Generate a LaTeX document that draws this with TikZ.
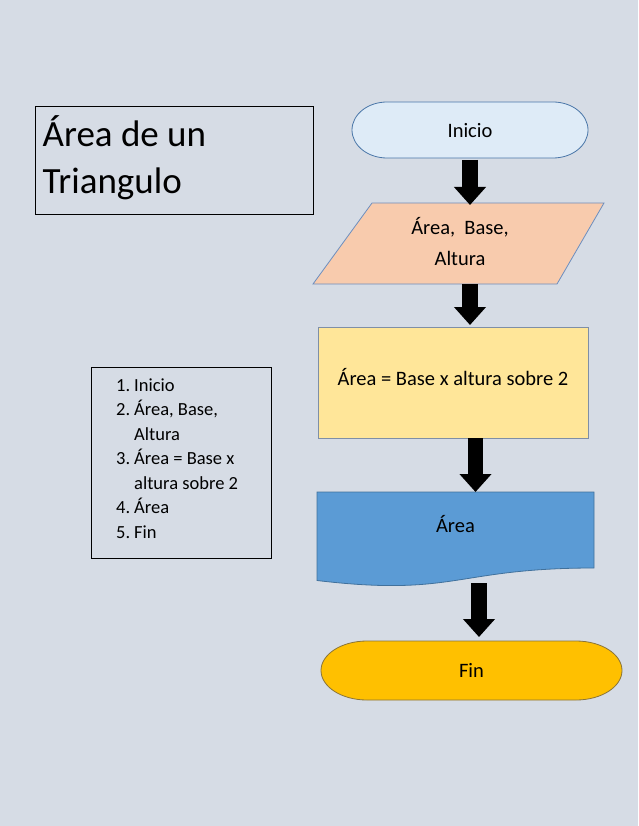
\documentclass[tikz,border=0pt]{standalone}
\usepackage{fontspec}
\setmainfont{Carlito}
\usetikzlibrary{arrows.meta,backgrounds}
\definecolor{pagebg}{HTML}{D6DCE5}
\definecolor{iniciofill}{HTML}{DEEBF7}
\definecolor{inicioedge}{HTML}{4A76A8}
\definecolor{parafill}{HTML}{F8CBAD}
\definecolor{paraedge}{HTML}{6C8EBF}
\definecolor{calcfill}{HTML}{FFE699}
\definecolor{calcedge}{HTML}{7F8FA6}
\definecolor{docfill}{HTML}{5B9BD5}
\definecolor{docedge}{HTML}{41719C}
\definecolor{finfill}{HTML}{FFC000}
\definecolor{finedge}{HTML}{8A7438}
\begin{document}
\begin{tikzpicture}[x=1pt,y=-1pt,
  shapetext/.style={inner sep=0pt, outer sep=0pt, font=\fontsize{20.5}{24.6}\selectfont, text=black},
  blockarrow/.style={line width=16pt, black, -{Triangle[length=18pt,width=31pt]}},
  outline/.style={line width=0.8pt},
  framebox/.style={line width=0.9pt, draw=black}]
\useasboundingbox (0,0) rectangle (638,826);

% flowchart nodes
\node[shapetext, minimum width=236pt, minimum height=56pt, text height=15.4pt, text depth=0pt] (inicio) at (470,130) {Inicio};
\node[shapetext, minimum width=291pt, minimum height=81pt] (para) at (458.5,243.5)
  {\fontsize{20.5}{31.6}\selectfont\begin{tabular}{@{}c@{}}\hspace{3pt}Área,~ Base,\\\hspace{3pt}Altura\end{tabular}};
\node[shapetext, minimum width=270pt, minimum height=111pt, text height=12pt, text depth=7pt] (calc) at (453,382.5) {Área = Base x altura sobre 2};
\node[shapetext, minimum width=277pt, minimum height=76pt, text height=12pt, text depth=7.4pt] (doc) at (455.5,530) {Área};
\node[shapetext, minimum width=301pt, minimum height=59pt, text height=13.6pt, text depth=0pt] (fin) at (471.5,670.5) {Fin};

% title and list
\node[anchor=base west, inner sep=0pt, font=\fontsize{37}{47.3}\selectfont] (title) at (42.5,146.7)
  {\begin{tabular}[t]{@{}l@{}}Área de un\\Triangulo\end{tabular}};
\node[anchor=base west, inner sep=0pt, font=\fontsize{18.5}{24.5}\selectfont] (steps) at (116,391)
  {\begin{tabular}[t]{@{}p{18pt}@{}l@{}}
  1. & Inicio\\
  2. & Área, Base,\\
     & Altura\\
  3. & Área = Base x\\
     & altura sobre 2\\
  4. & Área\\
  5. & Fin
  \end{tabular}};

\begin{scope}[on background layer]
\fill[pagebg] (0,0) rectangle (638,826);
% Inicio terminator
\draw[outline, draw=inicioedge, fill=iniciofill]
  ([xshift=35pt]inicio.north west) -- ([xshift=-35pt]inicio.north east)
  .. controls ([xshift=-15.67pt]inicio.north east) and ([yshift=15.46pt]inicio.east) .. (inicio.east)
  .. controls ([yshift=-15.46pt]inicio.east) and ([xshift=-15.67pt]inicio.south east) .. ([xshift=-35pt]inicio.south east)
  -- ([xshift=35pt]inicio.south west)
  .. controls ([xshift=15.67pt]inicio.south west) and ([yshift=-15.46pt]inicio.west) .. (inicio.west)
  .. controls ([yshift=15.46pt]inicio.west) and ([xshift=15.67pt]inicio.north west) .. ([xshift=35pt]inicio.north west)
  -- cycle;
% parallelogram
\draw[outline, draw=paraedge, fill=parafill]
  ([xshift=59pt]para.north west) -- (para.north east) -- ([xshift=-47pt]para.south east) -- (para.south west) -- cycle;
% process
\draw[outline, draw=calcedge, fill=calcfill] (calc.north west) rectangle (calc.south east);
% document
\draw[outline, draw=docedge, fill=docfill]
  (doc.north west) -- (doc.north east) -- (doc.south east)
  .. controls (doc.south) and ([yshift=-29pt]doc.south) .. ([yshift=-12.5pt]doc.south west) -- cycle;
% Fin terminator
\draw[outline, draw=finedge, fill=finfill]
  ([xshift=46pt]fin.north west) -- ([xshift=-46pt]fin.north east)
  .. controls ([xshift=-20.6pt]fin.north east) and ([yshift=16.3pt]fin.east) .. (fin.east)
  .. controls ([yshift=-16.3pt]fin.east) and ([xshift=-20.6pt]fin.south east) .. ([xshift=-46pt]fin.south east)
  -- ([xshift=46pt]fin.south west)
  .. controls ([xshift=20.6pt]fin.south west) and ([yshift=-16.3pt]fin.west) .. (fin.west)
  .. controls ([yshift=16.3pt]fin.west) and ([xshift=20.6pt]fin.north west) .. ([xshift=46pt]fin.north west)
  -- cycle;
% frames
\draw[framebox] (35,106) rectangle (313,214);
\draw[framebox] (91,367) rectangle (271,558);
\end{scope}

% block arrows
\draw[blockarrow] ([yshift=-2pt]inicio.south) -- ([xshift=11.5pt,yshift=-2pt]para.north);
\draw[blockarrow] ([xshift=11.5pt]para.south) -- ([xshift=17pt,yshift=2pt]calc.north);
\draw[blockarrow, line width=15pt] ([xshift=22.5pt]calc.south) -- ([xshift=20pt]doc.north);
\draw[blockarrow] ([xshift=23.5pt,yshift=-15pt]doc.south) -- ([xshift=7.5pt,yshift=4pt]fin.north);
\end{tikzpicture}
\end{document}
